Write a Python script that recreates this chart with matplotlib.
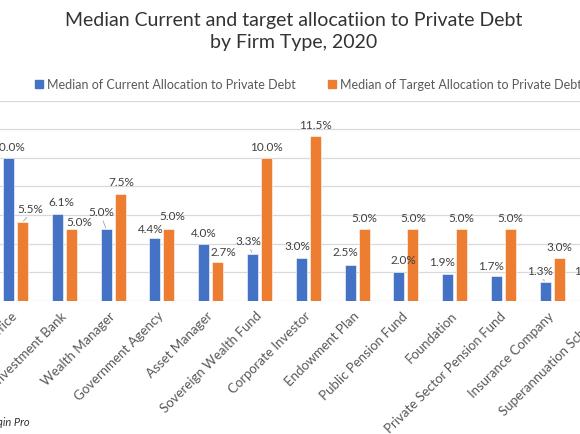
import numpy as np
import matplotlib
matplotlib.use("Agg")
import matplotlib.pyplot as plt
from matplotlib.patches import Patch

plt.rcParams['font.family'] = ['Lato', 'DejaVu Sans']

firm_types = ["Family Office", "Investment Bank", "Wealth Manager", "Government Agency",
              "Asset Manager", "Sovereign Wealth Fund", "Corporate Investor", "Endowment Plan",
              "Public Pension Fund", "Foundation", "Private Sector Pension Fund",
              "Insurance Company", "Superannuation Scheme"]
current_alloc = [10.0, 6.1, 5.0, 4.4, 4.0, 3.3, 3.0, 2.5, 2.0, 1.9, 1.7, 1.3, 1.0]
target_alloc = [5.5, 5.0, 7.5, 5.0, 2.7, 10.0, 11.5, 5.0, 5.0, 5.0, 5.0, 3.0, 2.0]

# label nudges (pixels), like the hand-placed Excel labels
cur_dx = [0, 4, -4.5, -4.5, 0.5, -4, -3.5, -5, 4.5, -5.5, -6, -5.5, -7.5]
cur_dy = [11.5, 11.6, 18, 9.6, 11.5, 13.5, 12, 13, 12.5, 12, 10.7, 12, 16]
tgt_dx = [8, 7.5, 1, 3.5, 6, 0, 0, 0, 0, 0, 0, 0, 0]
tgt_dy = [14, 7.5, 11.7, 13.3, 10.4, 11.7, 12, 11.7, 11.7, 11.7, 11.7, 11, 11.7]
leaders_cur = [2, 5, 11]
leaders_tgt = [0]

blue = "#4472C4"
orange = "#ED7D31"
txt = "#595959"

W, H = 580, 435
fig = plt.figure(figsize=(W / 100, H / 100), dpi=100)

# axes is wider than the figure: the picture is a crop of a bigger chart
step = 48.8
x0_px = 15.5
lo, hi = -0.6, 12.6
left_px = x0_px + lo * step
ax = fig.add_axes([left_px / W, 133.3 / H, (hi - lo) * step / W, 200 / H])

x = np.arange(len(firm_types))
bw = 0.225
off = 0.143
ax.bar(x - off, current_alloc, bw, color=blue, edgecolor="white", linewidth=0.4, zorder=3)
ax.bar(x + off, target_alloc, bw, color=orange, edgecolor="white", linewidth=0.4, zorder=3)

ax.set_xlim(lo, hi)
ax.set_ylim(0, 14)
ax.set_yticks(np.arange(0, 15, 2))
ax.yaxis.grid(True, color="#D9D9D9", linewidth=0.9, zorder=0)
ax.tick_params(axis='y', length=0, labelleft=False)
for s in ax.spines.values():
    s.set_visible(False)

ax.set_xticks(x)
ax.set_xticklabels(firm_types, rotation=45, ha='right', va='center',
                   rotation_mode='anchor', fontsize=9.5, color=txt)
ax.tick_params(axis='x', length=0, pad=9)


def put_labels(xs, vals, dxs, dys, leaders):
    for i, (xx, v) in enumerate(zip(xs, vals)):
        kw = {}
        if i in leaders:
            kw['arrowprops'] = dict(arrowstyle='-', color="#A6A6A6", lw=0.6,
                                    shrinkA=1, shrinkB=1, relpos=(0.5, 0))
        ax.annotate(f"{v:.1f}%", (xx, v), xytext=(dxs[i], dys[i]),
                    textcoords='offset pixels', ha='center', va='center',
                    fontsize=8.5, color="#404040", annotation_clip=False, **kw)


put_labels(x - off, current_alloc, cur_dx, cur_dy, leaders_cur)
put_labels(x + off, target_alloc, tgt_dx, tgt_dy, leaders_tgt)

fig.text(294 / W, 1 - 31.5 / H,
         "Median Current and target allocatiion to Private Debt\nby Firm Type, 2020",
         ha='center', va='center', fontsize=14, color="#333333", linespacing=1.3)

handles = [Patch(color=blue), Patch(color=orange)]
fig.legend(handles, ["Median of Current Allocation to Private Debt",
                     "Median of Target Allocation to Private Debt"],
           loc='center', bbox_to_anchor=(308.5 / W, 1 - 85 / H), ncol=2, frameon=False,
           fontsize=9, labelcolor=txt, handlelength=0.6, handleheight=0.6,
           handletextpad=0.35, columnspacing=2.6, borderpad=0)

fig.text(30 / W, 1 - 423 / H, "Source: Preqin Pro", ha='right', va='center',
         fontsize=8, style='italic', color="#333333")

fig.savefig("out.png", dpi=100)
